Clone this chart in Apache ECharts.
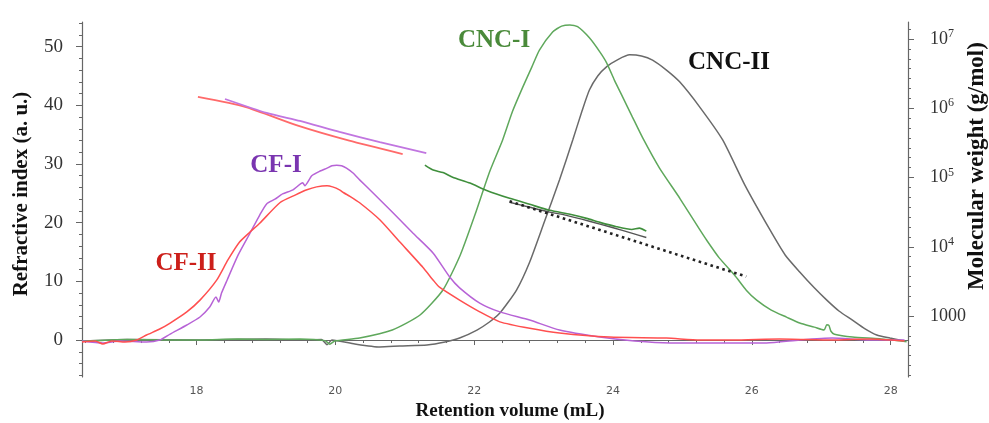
<!DOCTYPE html>
<html><head><meta charset="utf-8">
<script src="https://cdn.jsdelivr.net/npm/echarts@6/dist/echarts.min.js"></script>
<style>html,body{margin:0;padding:0;background:#fff}#c{width:989px;height:423px}</style>
</head><body><div id="c"></div>
<script>
// ---- tick labels ----
const xTickLabels = [18, 20, 22, 24, 26, 28];
const riTickLabels = [0, 10, 20, 30, 40, 50];
const mwTickValues = [1000, 10000, 100000, 1000000, 10000000];
const mwTickText = ['1000', '10|4', '10|5', '10|6', '10|7'];

// ---- refractive index traces: [retention volume (mL), RI (a.u.)] ----
const cnc2RI = [[16.35,-0.17],[17.0,0.1],[18.05,0],[19.0,0.17],[19.49,0],[19.8,0.1],[19.88,-0.8],[19.95,0],[20.28,-0.68],[20.64,-1.19],[20.93,-1.02],[21.32,-0.85],[21.58,-0.34],[21.79,0.34],[22.04,1.7],[22.22,3.07],[22.37,4.6],[22.61,8.52],[22.80,13.3],[23.01,20.1],[23.23,27.3],[23.42,34.1],[23.55,38.9],[23.66,42.6],[23.78,45.0],[23.91,46.6],[24.07,47.8],[24.24,48.6],[24.41,48.4],[24.57,47.7],[24.77,46.0],[24.96,44.0],[25.25,39.7],[25.58,34.1],[25.90,26.4],[26.26,18.8],[26.48,14.5],[26.69,11.6],[26.90,8.9],[27.08,6.8],[27.26,4.9],[27.45,3.4],[27.62,2.0],[27.80,0.85],[27.99,0.34],[28.20,-0.17]];
const cnc1RI = [[16.35,-0.17],[17.0,0.1],[17.6,0],[18.05,0],[18.6,0.17],[19.0,0.1],[19.49,0.17],[19.85,-0.1],[19.92,-0.7],[19.99,-0.17],[20.35,0.34],[20.82,1.7],[21.22,4.26],[21.55,8.52],[21.80,14.5],[22.01,21.3],[22.22,28.6],[22.41,34.1],[22.55,38.9],[22.70,43.1],[22.83,46.5],[22.94,49.4],[23.13,52.5],[23.26,53.5],[23.38,53.7],[23.49,53.4],[23.66,51.5],[23.81,49.1],[23.91,47.2],[24.02,44.3],[24.14,41.4],[24.28,38.0],[24.43,34.4],[24.67,29.3],[24.96,24.2],[25.25,18.8],[25.35,17.0],[25.53,14.0],[25.75,11.1],[25.92,8.5],[26.07,6.8],[26.28,5.1],[26.50,3.9],[26.69,2.9],[26.90,2.2],[27.04,1.7],[27.08,2.6],[27.11,2.5],[27.14,1.5],[27.19,1.0],[27.45,0.5],[27.84,0.2],[28.23,-0.3]];
const cf1RI = [[16.35,-0.17],[16.65,-0.51],[16.9,-0.17],[17.28,-0.34],[17.47,0],[17.62,1.02],[17.86,2.56],[18.05,3.92],[18.19,5.63],[18.28,7.33],[18.32,6.48],[18.36,8.0],[18.44,10.2],[18.60,14.5],[18.77,18.2],[18.91,21.3],[19.01,23.2],[19.13,24.0],[19.24,24.9],[19.39,25.6],[19.53,26.8],[19.56,26.3],[19.66,28.0],[19.78,28.8],[19.88,29.3],[19.95,29.7],[20.02,29.8],[20.09,29.7],[20.16,29.3],[20.25,28.5],[20.35,27.3],[20.54,25.1],[20.83,21.7],[21.12,18.2],[21.41,14.8],[21.65,10.7],[21.79,8.9],[22.08,6.3],[22.37,4.8],[22.80,3.4],[23.23,1.7],[23.81,0.5],[24.31,-0.17],[24.82,-0.51],[25.53,-0.51],[26.21,-0.51],[26.69,0],[27.16,0.34],[27.69,0],[28.20,0]];
const cf2RI = [[16.35,-0.34],[16.54,-0.17],[16.65,-0.68],[16.78,-0.17],[16.97,-0.34],[17.14,0],[17.28,0.85],[17.47,1.88],[17.62,2.9],[17.86,4.8],[18.05,6.8],[18.29,10.2],[18.45,13.6],[18.62,16.7],[18.77,18.4],[18.91,19.9],[19.20,23.4],[19.42,24.7],[19.59,25.6],[19.73,26.1],[19.88,26.3],[19.96,26.1],[20.06,25.6],[20.12,25.1],[20.21,24.5],[20.35,23.4],[20.64,20.5],[20.93,16.7],[21.26,12.4],[21.41,10.2],[21.50,9.0],[21.79,6.8],[22.08,4.8],[22.37,3.1],[22.80,2.0],[23.23,1.2],[23.95,0.5],[24.77,0.34],[25.25,0],[25.73,0],[26.40,0.17],[27.16,0],[27.69,0.17],[28.20,-0.17]];

// ---- molecular weight traces: [retention volume (mL), M (g/mol)] ----
const cf2MW = [[18.02,1460000],[18.7,1050000],[19.46,560000],[20.2,340000],[20.97,218000]];
const cf1MW = [[18.41,1360000],[19.01,855000],[19.49,655000],[20.06,454000],[20.64,325000],[21.31,225000]];
const cnc1MW = [[21.29,151000],[21.41,128000],[21.55,118000],[21.69,101000],[21.94,83000],[22.18,65000],[22.51,50000],[22.80,41000],[23.09,33600],[23.38,29400],[23.62,25700],[23.81,22500],[24.05,19500],[24.27,17800],[24.38,18600],[24.48,16800]];
const cnc2MW = [[22.51,43900],[22.80,37200],[23.09,31600],[23.33,28400],[23.66,23400],[23.99,19000],[24.28,15600],[24.48,13600]];
const fitMW = [[22.51,45400],[25.92,3720]];

const serif = "'Liberation Serif','Times New Roman',serif";
const toLog = arr => arr.map(p => [p[0], Math.log10(p[1])]);

const xMinor = []; for (let i = 41; i <= 70; i++) xMinor.push(+(i * 0.4).toFixed(1));
const riMinor = []; for (let t = -6; t <= 54; t += 2) riMinor.push(t);
const mwMinor = []; for (let n = 2; n <= 7; n++) for (let k = 0; k < 7; k++) { const v = n + k / 7; if (v > 2.12 && v < 7.245) mwMinor.push(v); }
const mwMajor = mwTickValues.map(v => Math.log10(v));

const chart = echarts.init(document.getElementById('c'));
const axisCol = '#666';
const lineSeries = (name, data, color, y, w, extra) => Object.assign({
  name, type: 'line', data, yAxisIndex: y, showSymbol: false, symbol: 'none', smooth: 0.2,
  lineStyle: { color, width: w }, silent: true, animation: false, z: 3
}, extra || {});

chart.setOption({
  animation: false,
  backgroundColor: '#fff',
  grid: { left: 82, right: 81, top: 22, bottom: 46 },
  xAxis: [
    { type: 'value', min: 16.35, max: 28.25, position: 'bottom',
      axisLine: { lineStyle: { color: axisCol, width: 1.2 } },
      axisTick: { customValues: xMinor, length: 3, lineStyle: { color: axisCol } },
      axisLabel: { customValues: xTickLabels, fontSize: 11, color: '#555', margin: 9, fontFamily: "'DejaVu Sans',sans-serif" },
      splitLine: { show: false } },
    { type: 'value', min: 16.35, max: 28.25, position: 'bottom',
      axisLine: { show: false },
      axisTick: { customValues: xTickLabels, length: 5, lineStyle: { color: axisCol } },
      axisLabel: { show: false }, splitLine: { show: false } }
  ],
  yAxis: [
    { type: 'value', min: -6.3, max: 54.2, position: 'left',
      axisLine: { show: true, lineStyle: { color: axisCol, width: 1.2 } },
      axisTick: { customValues: riMinor, length: 3, lineStyle: { color: axisCol } },
      axisLabel: { customValues: riTickLabels, fontSize: 19, color: '#333', margin: 19, fontFamily: serif },
      splitLine: { show: false } },
    { type: 'value', min: 2.12, max: 7.245, position: 'right',
      axisLine: { show: true, lineStyle: { color: axisCol, width: 1.2 } },
      axisTick: { customValues: mwMinor, length: 3, lineStyle: { color: axisCol } },
      axisLabel: { customValues: mwMajor, margin: 22, color: '#333',
        formatter: function (v) {
          const i = mwMajor.findIndex(m => Math.abs(m - v) < 1e-6);
          if (i < 0) return '';
          const t = mwTickText[i];
          if (t.indexOf('|') < 0) return '{b|' + t + '}';
          const p = t.split('|');
          return '{b|' + p[0] + '}{s|' + p[1] + '}';
        },
        rich: { b: { fontSize: 18, fontFamily: serif, color: '#333', lineHeight: 22 },
                s: { fontSize: 12, fontFamily: serif, color: '#333', verticalAlign: 'top', lineHeight: 12 } } },
      splitLine: { show: false } },
    { type: 'value', min: -6.3, max: 54.2, position: 'left',
      axisLine: { show: false },
      axisTick: { customValues: riTickLabels, length: 6, lineStyle: { color: axisCol } },
      axisLabel: { show: false }, splitLine: { show: false } },
    { type: 'value', min: 2.12, max: 7.245, position: 'right',
      axisLine: { show: false },
      axisTick: { customValues: mwMajor, length: 6, lineStyle: { color: axisCol } },
      axisLabel: { show: false }, splitLine: { show: false } }
  ],
  series: [
    lineSeries('CNC-II', cnc2RI, '#6a6a6a', 0, 1.5),
    lineSeries('CNC-I', cnc1RI, '#5fa85c', 0, 1.5),
    lineSeries('CF-I', cf1RI, '#b763d6', 0, 1.5),
    lineSeries('CF-II', cf2RI, '#ff4f4f', 0, 1.5),
    lineSeries('CF-II MW', toLog(cf2MW), '#ff6a6a', 1, 1.8),
    lineSeries('CF-I MW', toLog(cf1MW), '#c176e0', 1, 1.8),
    lineSeries('CNC-I MW', toLog(cnc1MW), '#3f8f3c', 1, 1.6),
    lineSeries('CNC-II MW', toLog(cnc2MW), '#555555', 1, 1.4),
    lineSeries('fit', toLog(fitMW), '#222222', 1, 2.6, { smooth: false, lineStyle: { color: '#222', width: 2.6, type: [2.6, 3.6] } })
  ],
  graphic: [
    { type: 'text', x: 510, y: 411, style: { text: 'Retention volume (mL)', font: 'bold 19px ' + serif, fill: '#111', align: 'center', verticalAlign: 'middle' } },
    { type: 'text', x: 22, y: 194, rotation: Math.PI / 2, style: { text: 'Refractive index (a. u.)', font: 'bold 21px ' + serif, fill: '#111', align: 'center', verticalAlign: 'middle' } },
    { type: 'text', x: 977, y: 166, rotation: Math.PI / 2, style: { text: 'Molecular weight (g/mol)', font: 'bold 23px ' + serif, fill: '#111', align: 'center', verticalAlign: 'middle' } },
    { type: 'text', x: 494, y: 41, style: { text: 'CNC-I', font: 'bold 25px ' + serif, fill: '#4a8a3a', align: 'center', verticalAlign: 'middle' } },
    { type: 'text', x: 729, y: 63, style: { text: 'CNC-II', font: 'bold 25px ' + serif, fill: '#111', align: 'center', verticalAlign: 'middle' } },
    { type: 'text', x: 276, y: 166, style: { text: 'CF-I', font: 'bold 25px ' + serif, fill: '#7a35b0', align: 'center', verticalAlign: 'middle' } },
    { type: 'text', x: 186, y: 264, style: { text: 'CF-II', font: 'bold 25px ' + serif, fill: '#cc1f1a', align: 'center', verticalAlign: 'middle' } }
  ]
});
</script></body></html>
